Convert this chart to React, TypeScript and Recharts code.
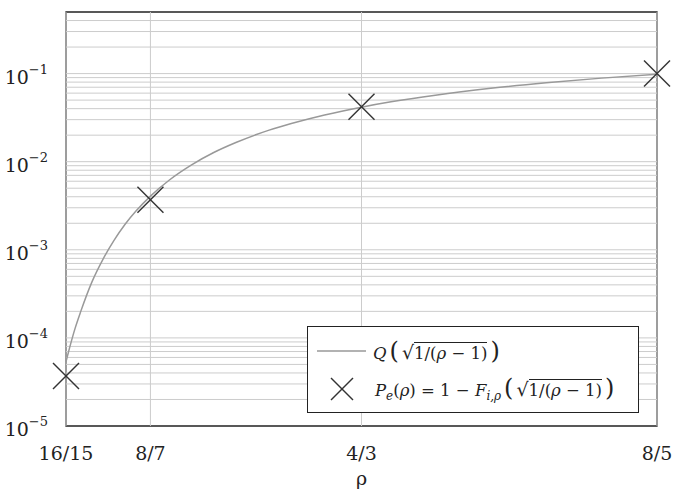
import React from 'react'
import {
  ComposedChart, Line, Scatter, XAxis, YAxis,
  ReferenceLine, ReferenceArea
} from 'recharts'

// ρ values and Q(√(1/(ρ−1)))
const curveRho = [1.0667, 1.07, 1.075, 1.08, 1.09, 1.1, 1.11, 1.12, 1.13, 1.1429, 1.16, 1.18, 1.2, 1.22, 1.25, 1.27, 1.3, 1.3333, 1.36, 1.4, 1.45, 1.5, 1.55, 1.6]
const curveQ = [5.4e-5, 7.8e-5, 1.3e-4, 2.0e-4, 4.3e-4, 7.8e-4, 1.28e-3, 1.95e-3, 2.77e-3, 4.07e-3, 6.2e-3, 9.2e-3, 0.0127, 0.0165, 0.0228, 0.0271, 0.0339, 0.0416, 0.0478, 0.0569, 0.068, 0.0786, 0.0888, 0.0984]

// cross markers
const markRho = [16 / 15, 8 / 7, 4 / 3, 8 / 5]
const markPe = [3.7e-5, 3.7e-3, 0.042, 0.1]

const xTicks = [16 / 15, 8 / 7, 4 / 3, 8 / 5]
const xLabels = ['16/15', '8/7', '4/3', '8/5']
const yTicks = [1e-5, 1e-4, 1e-3, 1e-2, 1e-1]
const yExps = ['−5', '−4', '−3', '−2', '−1']
const gridLines = [
  2e-5, 3e-5, 4e-5, 5e-5, 6e-5, 7e-5, 8e-5, 9e-5,
  2e-4, 3e-4, 4e-4, 5e-4, 6e-4, 7e-4, 8e-4, 9e-4,
  2e-3, 3e-3, 4e-3, 5e-3, 6e-3, 7e-3, 8e-3, 9e-3,
  2e-2, 3e-2, 4e-2, 5e-2, 6e-2, 7e-2, 8e-2, 9e-2,
  1e-4, 1e-3, 1e-2, 1e-1, 0.2, 0.3, 0.4,
]

const curve = curveRho.map((r, i) => ({ rho: r, q: curveQ[i] }))
const marks = markRho.map((r, i) => ({ rho: r, pe: markPe[i] }))

const FONT = '"DejaVu Serif", serif'
const GRID = '#cccccc'

const Cross = (props: any) => {
  const { cx, cy } = props
  if (cx == null || cy == null) return null
  const s = 13
  return (
    <g stroke="#333" strokeWidth={1.4}>
      <line x1={cx - s} y1={cy - s} x2={cx + s} y2={cy + s} />
      <line x1={cx - s} y1={cy + s} x2={cx + s} y2={cy - s} />
    </g>
  )
}

const XTick = ({ x, y, payload }: any) => {
  const i = xTicks.findIndex(t => Math.abs(t - payload.value) < 1e-6)
  return (
    <text x={x} y={y + 26} textAnchor="middle" fontFamily={FONT} fontSize={19} fill="#222">
      {xLabels[i] ?? ''}
    </text>
  )
}

const YTick = ({ x, y, payload }: any) => {
  const i = yTicks.findIndex(t => Math.abs(Math.log10(t) - Math.log10(payload.value)) < 1e-6)
  return (
    <text x={x - 10} y={y + 10} textAnchor="end" fontFamily={FONT} fontSize={19} fill="#222">
      10
      <tspan dy={-10} fontSize={13}>{yExps[i] ?? ''}</tspan>
    </text>
  )
}

const sqrtArg = (
  <span style={{ whiteSpace: 'nowrap' }}>
    <span style={{ fontSize: 24, margin: '0 3px' }}>(</span>
    <span style={{ fontSize: 19 }}>√</span>
    <span style={{ borderTop: '1px solid #222', paddingTop: 1 }}>1/(<i>ρ</i> − 1)</span>
    <span style={{ fontSize: 24, marginLeft: 3 }}>)</span>
  </span>
)

const LegendBox = () => (
  <div style={{
    position: 'absolute', left: 307, top: 326, width: 332, height: 87,
    border: '1.3px solid #222', background: '#fff', fontFamily: FONT, fontSize: 16.5,
    color: '#222', padding: '4px 4px 4px 9px', boxSizing: 'border-box'
  }}>
    <div style={{ display: 'flex', alignItems: 'center', height: 40 }}>
      <svg width={50} height={12}><line x1={0} y1={6} x2={49} y2={6} stroke="#999" strokeWidth={1.5} /></svg>
      <span style={{ marginLeft: 6 }}><i>Q</i>{sqrtArg}</span>
    </div>
    <div style={{ display: 'flex', alignItems: 'center', height: 36 }}>
      <svg width={50} height={26}>
        <g stroke="#333" strokeWidth={1.4}>
          <line x1={14} y1={2} x2={36} y2={24} /><line x1={14} y1={24} x2={36} y2={2} />
        </g>
      </svg>
      <span style={{ marginLeft: 8 }}>
        <i>P<sub style={{ fontSize: 12 }}>e</sub></i>(<i>ρ</i>) = 1 − <i>F<sub style={{ fontSize: 12 }}>i,ρ</sub></i>{sqrtArg}
      </span>
    </div>
  </div>
)

export default function App() {
  return (
    <div style={{ position: 'absolute', left: 0, top: 0, width: 683, height: 490, background: '#fff' }}>
      <ComposedChart width={683} height={490} margin={{ top: 12, right: 26, left: 0, bottom: 0 }}>
        {gridLines.map(v => (
          <ReferenceLine key={v} y={v} stroke={GRID} strokeWidth={1} />
        ))}
        {xTicks.map(v => (
          <ReferenceLine key={'x' + v} x={v} stroke={GRID} strokeWidth={1} />
        ))}
        <XAxis
          dataKey="rho" type="number" domain={[16 / 15, 1.6]} ticks={xTicks}
          tickLine={false} axisLine={false} height={64}
          tick={<XTick />} interval={0}
          label={{ value: 'ρ', position: 'insideBottom', offset: 5, fontFamily: FONT, fontSize: 19, fill: '#222' }}
        />
        <YAxis
          type="number" scale="log" domain={[1e-5, 0.5]} ticks={yTicks}
          tickLine={false} axisLine={false} width={66} tick={<YTick />} interval={0}
        />
        <ReferenceArea
          x1={16 / 15} x2={1.6} y1={1e-5} y2={0.5}
          fill="none" stroke="#222" strokeWidth={1.3} fillOpacity={0}
        />
        <Line data={curve} dataKey="q" type="monotone" stroke="#999" strokeWidth={1.5}
          dot={false} isAnimationActive={false} />
        <Scatter data={marks} dataKey="pe" shape={<Cross />} isAnimationActive={false} />
      </ComposedChart>
      <LegendBox />
    </div>
  )
}
